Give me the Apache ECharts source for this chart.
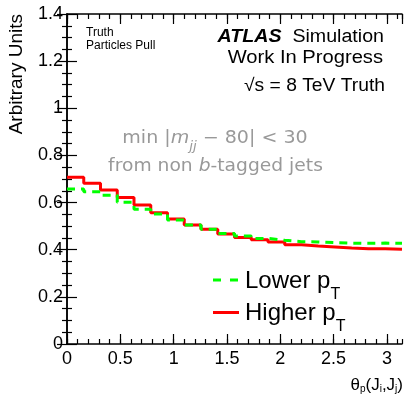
<!DOCTYPE html>
<html>
<head>
<meta charset="utf-8">
<script src="https://cdn.jsdelivr.net/npm/echarts@6/dist/echarts.min.js"></script>
<style>
  html, body { margin: 0; padding: 0; background: #ffffff; }
  #chart { width: 404px; height: 394px; }
</style>
</head>
<body>
<div id="chart"></div>
<script>
// Pull angle distribution, 20 bins between 0 and pi
const X_MAX = Math.PI;
const BIN_COUNT = 20;

// Bin contents (normalised), higher-pT jet pairs
const higherPt = [0.707, 0.682, 0.653, 0.622, 0.590, 0.557, 0.530, 0.505, 0.487, 0.467,
                  0.452, 0.442, 0.433, 0.421, 0.416, 0.412, 0.407, 0.404, 0.404, 0.402];
// Bin contents (normalised), lower-pT jet pairs
const lowerPt  = [0.658, 0.646, 0.631, 0.601, 0.572, 0.552, 0.526, 0.505, 0.487, 0.469,
                  0.458, 0.448, 0.440, 0.434, 0.433, 0.430, 0.428, 0.427, 0.428, 0.427];

const yRange = [0, 1.4];
const xMajorStep = 0.5;
const xMinorStep = 0.1;
const yMajorStep = 0.2;

const FONT = '"Liberation Sans", Arial, Helvetica, sans-serif';
const MATH_FONT = '"DejaVu Sans", sans-serif';

// Turn bin contents into step-line points at the bin lower edges, closing at the last edge
function histPoints(values) {
  const w = X_MAX / BIN_COUNT;
  const pts = values.map((v, i) => [i * w, v]);
  pts.push([X_MAX, values[values.length - 1]]);
  return pts;
}

const chart = echarts.init(document.getElementById('chart'), null, { renderer: 'canvas' });

const frameLine = { show: true, lineStyle: { color: '#000', width: 1.5 } };
const majorTick = { show: true, inside: true, length: 10, lineStyle: { color: '#000', width: 1.2 } };
const minorTickX = { show: true, inside: true, length: 5, lineStyle: { color: '#000', width: 1.2 } };

function xAxisDef(position, step, tick, showLabels, line) {
  return {
    type: 'value', position: position, min: 0, max: X_MAX, interval: step,
    axisLine: line ? frameLine : { show: false },
    axisTick: tick,
    splitLine: { show: false },
    axisLabel: showLabels ? {
      show: true, margin: 6, color: '#000', fontFamily: FONT, fontSize: 18,
      showMaxLabel: false
    } : { show: false }
  };
}

function yAxisDef(position, showLabels) {
  return {
    type: 'value', position: position, min: yRange[0], max: yRange[1], interval: yMajorStep,
    axisLine: frameLine,
    axisTick: majorTick,
    minorTick: { show: true, splitNumber: 4, length: 5, lineStyle: { color: '#000', width: 1.2 } },
    splitLine: { show: false },
    minorSplitLine: { show: false },
    axisLabel: showLabels ? {
      show: true, margin: 4, color: '#000', fontFamily: FONT, fontSize: 18
    } : { show: false }
  };
}

// Plain text element helper
function label(x, y, text, size, align, extra) {
  return Object.assign({
    type: 'text', x: x, y: y, z: 10,
    style: { text: text, font: size + 'px ' + FONT, fill: '#000', align: align, verticalAlign: 'middle' }
  }, extra || {});
}

const option = {
  backgroundColor: '#ffffff',
  animation: false,
  grid: { left: 67, top: 14, width: 335, height: 330, containLabel: false },
  xAxis: [
    xAxisDef('bottom', xMajorStep, majorTick, true, true),
    xAxisDef('bottom', xMinorStep, minorTickX, false, false),
    xAxisDef('top', xMajorStep, majorTick, false, true),
    xAxisDef('top', xMinorStep, minorTickX, false, false)
  ],
  yAxis: [
    yAxisDef('left', true),
    yAxisDef('right', false)
  ],
  series: [
    {
      name: 'Higher pT', type: 'line', step: 'end', symbol: 'none',
      xAxisIndex: 0, yAxisIndex: 0,
      data: histPoints(higherPt),
      lineStyle: { color: '#ff0000', width: 3 },
      z: 3
    },
    {
      name: 'Lower pT', type: 'line', step: 'end', symbol: 'none',
      xAxisIndex: 0, yAxisIndex: 0,
      data: histPoints(lowerPt),
      lineStyle: { color: '#00ff00', width: 3, type: [8, 6] },
      z: 4
    }
  ],
  graphic: [
    // axis titles
    label(17, 14, 'Arbitrary Units', 19, 'right', { rotation: Math.PI / 2 }),
    {
      type: 'text', x: 403, y: 377, z: 10,
      style: {
        text: 'θ{s|p}(J{s|i},J{s|j})', align: 'right', verticalAlign: 'top',
        font: '17px ' + FONT, fill: '#000',
        rich: {
          s: { fontSize: 10, fontFamily: FONT, fill: '#000', lineHeight: 10,
               padding: [7, 0, 0, 0], verticalAlign: 'top' }
        }
      }
    },
    // top-left labels
    label(86, 33, 'Truth', 12, 'left'),
    label(86, 45.5, 'Particles Pull', 12, 'left'),
    // experiment labels
    {
      type: 'text', x: 384, y: 37, z: 10, scaleX: 1.09,
      style: {
        text: '{b|ATLAS}  Simulation', align: 'right', verticalAlign: 'middle',
        font: '18px ' + FONT, fill: '#000',
        rich: { b: { fontSize: 18, fontFamily: FONT, fontWeight: 'bold', fontStyle: 'italic', fill: '#000' } }
      }
    },
    label(383, 58, 'Work In Progress', 18, 'right', { scaleX: 1.12 }),
    label(385, 86.5, '√s = 8 TeV Truth', 18, 'right', { scaleX: 1.07 }),
    // selection annotation
    {
      type: 'text', x: 215, y: 139, z: 10, scaleX: 1.12,
      style: {
        text: 'min |{i|m}{s|jj} − 80| < 30', align: 'center', verticalAlign: 'middle',
        font: '17px ' + MATH_FONT, fill: '#999999',
        rich: {
          i: { fontSize: 17, fontFamily: MATH_FONT, fontStyle: 'italic', fill: '#999999' },
          s: { fontSize: 12, fontFamily: MATH_FONT, fontStyle: 'italic', fill: '#999999',
               lineHeight: 12, padding: [10, 0, 0, 0], verticalAlign: 'top' }
        }
      }
    },
    {
      type: 'text', x: 215.5, y: 166.5, z: 10, scaleX: 1.1,
      style: {
        text: 'from non {i|b}-tagged jets', align: 'center', verticalAlign: 'middle',
        font: '17px ' + MATH_FONT, fill: '#999999',
        rich: { i: { fontSize: 17, fontFamily: MATH_FONT, fontStyle: 'italic', fill: '#999999' } }
      }
    },
    // legend
    {
      type: 'line', z: 10,
      shape: { x1: 213, y1: 280, x2: 238, y2: 280 },
      style: { stroke: '#00ff00', lineWidth: 3, lineDash: [8, 9] }
    },
    {
      type: 'text', x: 245, y: 269, z: 10,
      style: {
        text: '{m|Lower p}{s|T}', align: 'left', verticalAlign: 'top',
        rich: {
          m: { fontSize: 24, fontFamily: FONT, fill: '#000', lineHeight: 24, verticalAlign: 'top' },
          s: { fontSize: 16, fontFamily: FONT, fill: '#000', lineHeight: 16, padding: [18, 0, 0, 0], verticalAlign: 'top' }
        }
      }
    },
    {
      type: 'line', z: 10,
      shape: { x1: 213, y1: 312.5, x2: 239, y2: 312.5 },
      style: { stroke: '#ff0000', lineWidth: 3 }
    },
    {
      type: 'text', x: 245, y: 301, z: 10,
      style: {
        text: '{m|Higher p}{s|T}', align: 'left', verticalAlign: 'top',
        rich: {
          m: { fontSize: 24, fontFamily: FONT, fill: '#000', lineHeight: 24, verticalAlign: 'top' },
          s: { fontSize: 16, fontFamily: FONT, fill: '#000', lineHeight: 16, padding: [18, 0, 0, 0], verticalAlign: 'top' }
        }
      }
    }
  ]
};

chart.setOption(option);
</script>
</body>
</html>
